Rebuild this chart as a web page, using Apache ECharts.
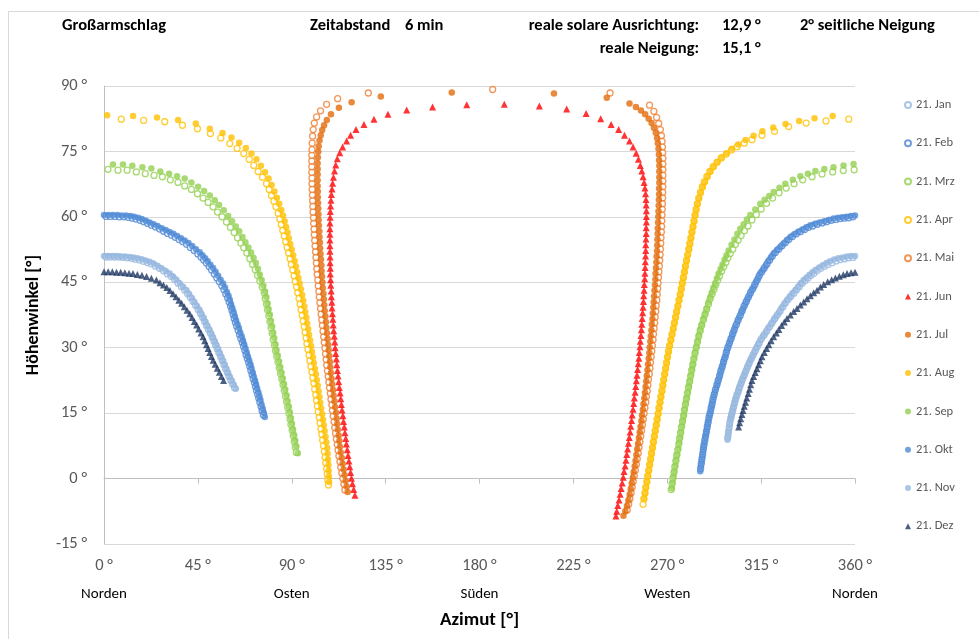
<!DOCTYPE html>
<html>
<head>
<meta charset="utf-8">
<script src="https://cdn.jsdelivr.net/npm/echarts@6/dist/echarts.min.js"></script>
<style>
html, body { margin: 0; padding: 0; background: #fff; }
#chart { width: 979px; height: 639px; }
</style>
</head>
<body>
<div id="chart"></div>
<script>
const monthNames = ["21. Jan", "21. Feb", "21. Mrz", "21. Apr", "21. Mai", "21. Jun",
  "21. Jul", "21. Aug", "21. Sep", "21. Okt", "21. Nov", "21. Dez"];

const jan = [
  [1.0,50.8],[3.0,50.8],[5.1,50.8],[7.1,50.8],[9.2,50.7],[11.2,50.6],[13.2,50.5],[15.1,50.3],[17.1,50.1],[19.0,49.8],
  [21.0,49.5],[22.8,49.2],[24.7,48.7],[26.6,48.2],[28.6,47.6],[30.5,46.9],[32.3,46.3],[33.9,45.6],[35.5,44.8],[37.1,44.0],
  [38.7,43.2],[40.1,42.4],[41.4,41.5],[42.7,40.6],[43.9,39.7],[45.2,38.7],[46.3,37.8],[47.3,36.9],[48.2,36.0],[49.1,35.1],
  [50.1,34.2],[51.0,33.3],[51.9,32.4],[52.7,31.5],[53.5,30.6],[54.3,29.7],[55.1,28.8],[55.9,27.9],[56.7,27.0],[57.5,26.1],
  [58.3,25.2],[59.1,24.3],[59.9,23.4],[60.8,22.5],[61.7,21.6],[62.6,20.8],
  [299.0,9.5],[299.3,10.6],[299.7,11.7],[300.0,12.8],[300.5,13.9],[300.9,14.8],[301.4,15.7],[301.9,16.6],[302.4,17.5],[302.9,18.4],
  [303.5,19.3],[304.2,20.2],[304.8,21.1],[305.5,22.0],[306.2,22.9],[307.0,23.8],[307.8,24.8],[308.6,25.7],[309.4,26.6],[310.3,27.5],
  [311.2,28.4],[312.2,29.3],[313.1,30.2],[314.1,31.1],[315.2,32.1],[316.5,33.0],[317.8,33.9],[319.1,34.8],[320.3,35.7],[321.6,36.7],
  [322.9,37.6],[324.2,38.5],[325.5,39.4],[326.7,40.3],[328.0,41.1],[329.3,41.8],[330.7,42.5],[332.0,43.3],[333.3,44.0],[334.7,44.8],
  [336.1,45.4],[337.5,46.0],[338.9,46.6],[340.3,47.1],[341.9,47.7],[343.6,48.2],[345.4,48.7],[347.1,49.1],[349.0,49.5],[351.0,49.9],
  [353.0,50.2],[355.0,50.4],[357.0,50.6],[359.0,50.7]
];

const feb = [
  [1.0,60.1],[3.1,60.1],[5.3,60.1],[7.4,60.0],[9.5,60.0],[11.6,59.9],[13.6,59.7],[15.4,59.5],[17.3,59.2],[19.1,58.9],
  [21.0,58.5],[22.8,58.1],[24.7,57.7],[26.7,57.2],[28.6,56.7],[30.5,56.2],[32.4,55.8],[34.2,55.3],[36.0,54.8],[37.8,54.3],
  [39.6,53.7],[41.4,53.0],[43.2,52.3],[45.0,51.5],[46.5,50.8],[47.8,50.1],[49.1,49.4],[50.4,48.6],[51.6,47.8],[52.9,46.9],
  [54.1,46.0],[55.3,45.1],[56.5,44.2],[57.5,43.3],[58.4,42.3],[59.3,41.4],[60.0,40.5],[60.7,39.5],[61.3,38.6],[61.9,37.7],
  [62.4,36.7],[63.0,35.8],[63.6,34.9],[64.3,34.0],[65.0,33.0],[65.6,32.1],[66.3,31.2],[66.9,30.3],[67.5,29.4],[68.1,28.4],
  [68.7,27.5],[69.3,26.6],[69.9,25.7],[70.4,24.8],[71.0,23.8],[71.5,22.9],[72.1,22.0],[72.6,21.1],[73.1,20.2],[73.7,19.3],
  [74.2,18.4],[74.7,17.5],[75.3,16.5],[75.8,15.5],[76.4,14.6],
  [286.0,2.3],[286.3,3.4],[286.6,4.5],[287.0,5.6],[287.3,6.7],[287.6,7.7],[288.0,8.8],[288.4,9.8],[288.8,10.8],[289.2,11.9],
  [289.6,12.9],[290.0,14.0],[290.5,15.0],[291.0,16.1],[291.5,17.1],[291.9,18.2],[292.5,19.3],[293.1,20.4],[293.8,21.5],[294.4,22.5],
  [295.1,23.6],[295.7,24.7],[296.4,25.7],[297.0,26.8],[297.7,27.8],[298.3,28.9],[299.0,30.0],[299.8,31.1],[300.6,32.1],[301.4,33.2],
  [302.2,34.2],[303.1,35.3],[304.0,36.4],[305.0,37.4],[305.9,38.5],[306.9,39.6],[307.9,40.6],[308.9,41.6],[309.9,42.6],[311.0,43.5],
  [312.0,44.5],[313.1,45.5],[314.1,46.5],[315.3,47.4],[316.5,48.3],[317.8,49.2],[319.1,50.1],[320.4,51.0],[321.8,51.8],[323.4,52.6],
  [325.0,53.4],[326.6,54.1],[328.2,54.8],[330.0,55.5],[331.9,56.1],[333.8,56.6],[335.8,57.1],[337.7,57.6],[339.7,57.9],[341.9,58.3],
  [344.2,58.6],[346.4,58.9],[348.6,59.2],[350.8,59.4],[352.9,59.6],[354.9,59.7],[357.0,59.8],[359.0,60.0]
];

const mrz = [
  [1.9,70.9],[6.7,70.7],[11.1,70.7],[15.5,70.3],[19.8,69.9],[24.0,69.5],[28.0,69.2],[31.8,68.5],[35.5,67.9],[38.7,67.1],
  [41.9,66.3],[44.8,65.3],[47.5,64.3],[49.9,63.3],[52.3,62.3],[54.4,61.1],[56.6,60.0],[58.7,58.8],[60.6,57.6],[62.4,56.4],
  [64.0,55.2],[65.6,54.0],[67.0,52.9],[68.5,51.7],[69.9,50.4],[71.2,49.1],[72.5,47.9],[73.6,46.6],[74.7,45.3],[75.8,43.9],
  [76.8,42.6],[77.3,41.3],[77.9,40.0],[78.4,38.7],[79.0,37.3],[79.5,36.0],[80.1,34.6],[80.6,33.3],[81.1,31.9],[81.7,30.6],
  [82.2,29.3],[82.8,28.0],[83.4,26.7],[84.0,25.4],[84.6,24.1],[85.2,22.8],[85.8,21.5],[86.4,20.2],[87.0,18.9],[87.5,17.6],
  [88.1,16.3],[88.6,15.0],[89.1,13.7],[89.6,12.4],[90.2,11.1],[90.7,9.8],[91.2,8.5],[91.7,7.2],[92.2,6.0],
  [271.9,-2.5],[272.3,-1.2],[272.7,0.1],[273.2,1.4],[273.6,2.7],[274.1,4.0],[274.5,5.3],[275.0,6.6],[275.5,7.9],[275.9,9.2],
  [276.4,10.5],[276.8,11.8],[277.3,13.1],[277.8,14.4],[278.2,15.7],[278.7,17.0],[279.2,18.3],[279.7,19.6],[280.2,20.9],[280.7,22.2],
  [281.2,23.5],[281.7,24.8],[282.2,26.1],[282.7,27.4],[283.3,28.7],[283.9,30.0],[284.5,31.3],[285.1,32.6],[285.8,33.9],[286.5,35.1],
  [287.3,36.4],[288.1,37.6],[288.9,38.8],[289.8,40.0],[290.6,41.2],[291.5,42.3],[292.4,43.4],[293.3,44.5],[294.2,45.5],[295.1,46.5],
  [296.1,47.6],[297.1,48.6],[298.1,49.6],[299.1,50.6],[300.2,51.6],[301.4,52.6],[302.7,53.7],[304.0,54.7],[305.4,55.7],[307.0,56.8],
  [308.7,57.9],[310.6,59.3],[312.7,60.5],[315.0,61.8],[317.6,63.1],[320.5,64.3],[323.6,65.5],[327.0,66.6],[330.8,67.6],[334.9,68.5],
  [339.4,69.2],[344.2,69.8],[349.3,70.3],[354.4,70.6],[359.6,70.8]
];

const apr = [
  [8.3,82.4],[19.0,82.1],[29.1,81.8],[37.6,81.0],[44.8,80.2],[51.0,79.1],[56.0,78.1],[60.3,76.8],[63.8,75.7],[67.0,74.5],
  [69.6,73.2],[71.8,71.8],[73.9,70.4],[76.0,69.1],[77.9,67.6],[79.2,66.3],[80.3,64.9],[81.4,63.6],[82.4,62.3],[83.5,60.8],
  [84.3,59.5],[85.0,58.2],[85.7,56.9],[86.4,55.6],[87.1,54.3],[87.8,53.0],[88.5,51.7],[89.2,50.4],[89.8,49.1],[90.5,47.8],
  [91.1,46.5],[91.7,45.2],[92.3,43.9],[92.9,42.6],[93.5,41.3],[94.0,40.0],[94.5,38.7],[95.0,37.4],[95.5,36.1],[96.0,34.8],
  [96.4,33.5],[96.9,32.2],[97.3,30.9],[97.8,29.6],[98.3,28.3],[98.7,27.0],[99.2,25.7],[99.7,24.4],[100.1,23.1],[100.6,21.8],
  [101.0,20.5],[101.5,19.2],[101.9,17.9],[102.3,16.6],[102.7,15.3],[103.2,14.0],[103.6,12.7],[104.0,11.4],[104.4,10.1],[104.8,8.8],
  [105.2,7.5],[105.6,6.2],[106.0,4.9],[106.3,3.6],[106.7,2.3],[107.0,1.0],[107.3,-0.3],[107.6,-1.5],
  [258.4,-5.9],[258.8,-4.6],[259.3,-3.3],[259.7,-2.0],[260.2,-0.7],[260.6,0.6],[261.1,1.9],[261.5,3.2],[262.0,4.5],[262.4,5.8],
  [262.9,7.1],[263.3,8.4],[263.8,9.7],[264.2,11.0],[264.7,12.3],[265.1,13.6],[265.6,14.9],[266.0,16.2],[266.5,17.5],[266.9,18.8],
  [267.4,20.1],[267.8,21.4],[268.3,22.7],[268.7,24.0],[269.2,25.3],[269.6,26.6],[270.1,27.9],[270.6,29.2],[271.1,30.5],[271.7,31.8],
  [272.3,33.1],[272.9,34.4],[273.4,35.7],[274.0,37.0],[274.5,38.3],[275.1,39.6],[275.6,40.9],[276.2,42.2],[276.7,43.5],[277.2,44.8],
  [277.7,46.1],[278.2,47.4],[278.7,48.7],[279.2,50.0],[279.8,51.3],[280.3,52.6],[280.8,53.9],[281.3,55.2],[281.8,56.5],[282.3,57.8],
  [282.8,59.1],[283.3,60.4],[283.8,61.7],[284.4,63.0],[285.1,64.3],[285.9,65.6],[286.8,66.9],[287.8,68.1],[289.0,69.3],[290.4,70.4],
  [292.0,71.5],[293.8,72.5],[295.9,73.5],[298.3,74.4],[300.8,75.3],[303.5,76.1],[306.9,76.9],[310.6,77.7],[315.4,78.7],[321.4,79.6],
  [328.2,80.7],[336.6,81.5],[346.1,82.0],[357.0,82.4]
];

const mai = [
  [115.5,-2.6],[115.0,-1.3],[114.5,0.0],[114.0,1.3],[113.5,2.6],[113.1,3.9],[112.6,5.2],[112.2,6.5],[111.8,7.8],[111.4,9.1],
  [111.0,10.4],[110.6,11.7],[110.3,13.0],[109.9,14.3],[109.5,15.6],[109.2,16.9],[108.8,18.2],[108.5,19.5],[108.1,20.8],[107.8,22.1],
  [107.5,23.4],[107.1,24.7],[106.8,26.0],[106.5,27.3],[106.2,28.6],[105.9,29.9],[105.6,31.2],[105.3,32.5],[105.0,33.8],[104.7,35.1],
  [104.4,36.4],[104.1,37.7],[103.8,39.0],[103.5,40.3],[103.2,41.6],[103.0,42.9],[102.7,44.2],[102.5,45.5],[102.2,46.8],[102.0,48.1],
  [101.8,49.4],[101.6,50.7],[101.4,52.0],[101.2,53.3],[101.0,54.6],[100.8,55.9],[100.7,57.2],[100.5,58.5],[100.4,59.8],[100.2,61.1],
  [100.1,62.4],[100.0,63.7],[99.9,65.0],[99.8,66.3],[99.7,67.6],[99.7,68.9],[99.6,70.2],[99.6,71.5],[99.6,72.8],[99.6,74.1],
  [99.7,75.4],[99.8,76.9],[100.0,78.5],[100.3,80.0],[100.8,81.5],[101.9,82.9],[103.8,84.3],[106.7,85.8],[112.0,87.1],[126.7,88.4],
  [186.3,89.2],[242.6,88.4],
  [261.5,85.6],[263.6,84.2],[264.9,82.8],[265.9,81.4],[266.7,80.0],[267.2,78.6],[267.5,77.3],[267.7,76.0],[267.8,74.7],[267.9,73.4],
  [267.9,72.1],[267.9,70.8],[267.9,69.5],[267.9,68.2],[267.9,66.9],[267.8,65.6],[267.8,64.3],[267.7,63.0],[267.6,61.7],[267.5,60.4],
  [267.4,59.1],[267.3,57.8],[267.2,56.5],[267.0,55.2],[266.9,53.9],[266.7,52.6],[266.6,51.3],[266.4,50.0],[266.2,48.7],[266.0,47.4],
  [265.8,46.1],[265.6,44.8],[265.4,43.5],[265.2,42.2],[265.0,40.9],[264.7,39.6],[264.5,38.3],[264.2,37.0],[264.0,35.7],[263.7,34.4],
  [263.4,33.1],[263.2,31.8],[262.9,30.5],[262.6,29.2],[262.3,27.9],[262.0,26.6],[261.7,25.3],[261.4,24.0],[261.0,22.7],[260.7,21.4],
  [260.4,20.1],[260.0,18.8],[259.7,17.5],[259.3,16.2],[258.9,14.9],[258.5,13.6],[258.1,12.3],[257.7,11.0],[257.3,9.7],[256.9,8.4],
  [256.5,7.1],[256.1,5.8],[255.6,4.5],[255.2,3.2],[254.7,1.9],[254.2,0.6],[253.7,-0.7],[253.2,-2.0],[252.7,-3.3],[252.1,-4.6],
  [251.5,-5.9],[250.8,-7.2]
];

const jun = [
  [120.3,-3.8],[119.7,-2.5],[119.1,-1.2],[118.6,0.1],[118.2,1.4],[117.8,2.7],[117.4,4.0],[117.0,5.3],[116.6,6.6],[116.2,7.9],
  [115.9,9.2],[115.5,10.5],[115.2,11.8],[114.8,13.1],[114.5,14.4],[114.1,15.7],[113.8,17.0],[113.5,18.3],[113.2,19.6],[112.8,20.9],
  [112.5,22.2],[112.2,23.5],[111.9,24.8],[111.6,26.1],[111.4,27.4],[111.1,28.7],[110.8,30.0],[110.6,31.3],[110.4,32.6],[110.1,33.9],
  [109.9,35.2],[109.7,36.5],[109.5,37.8],[109.3,39.1],[109.2,40.4],[109.0,41.7],[108.9,43.0],[108.7,44.3],[108.6,45.6],[108.5,46.9],
  [108.5,48.2],[108.4,49.5],[108.4,50.8],[108.3,52.1],[108.3,53.4],[108.3,54.7],[108.3,56.0],[108.3,57.3],[108.3,58.6],[108.4,59.9],
  [108.5,61.2],[108.6,62.5],[108.8,63.8],[109.0,65.1],[109.3,66.4],[109.6,67.7],[110.0,69.1],[110.5,70.5],[111.1,71.9],[111.8,73.3],
  [113.0,74.7],[114.4,76.0],[116.3,77.4],[118.2,78.7],[120.8,80.0],[124.6,81.2],[129.4,82.4],[136.1,83.5],[145.1,84.5],[157.5,85.2],
  [173.9,85.7],[191.9,85.8],[208.7,85.4],[221.8,84.7],[231.1,83.7],[238.1,82.5],[243.1,81.2],[246.7,80.0],[249.5,78.7],[251.9,77.4],
  [253.6,76.0],[255.1,74.6],[256.2,73.2],[257.1,71.8],[257.8,70.5],[258.4,69.2],[258.9,67.9],[259.3,66.6],[259.6,65.3],[259.8,64.0],
  [259.9,62.7],[260.0,61.4],[260.0,60.1],[260.0,58.8],[259.9,57.5],[259.9,56.2],[259.8,54.9],[259.7,53.6],[259.7,52.3],[259.6,51.0],
  [259.5,49.7],[259.4,48.4],[259.3,47.1],[259.2,45.8],[259.0,44.5],[258.9,43.2],[258.7,41.9],[258.6,40.6],[258.4,39.3],[258.2,38.0],
  [258.0,36.7],[257.8,35.4],[257.6,34.1],[257.4,32.8],[257.1,31.5],[256.9,30.2],[256.6,28.9],[256.4,27.6],[256.1,26.3],[255.8,25.0],
  [255.5,23.7],[255.2,22.4],[254.9,21.1],[254.6,19.8],[254.2,18.5],[253.9,17.2],[253.6,15.9],[253.2,14.6],[252.9,13.3],[252.5,12.0],
  [252.2,10.7],[251.8,9.4],[251.4,8.1],[251.0,6.8],[250.6,5.5],[250.2,4.2],[249.8,2.9],[249.3,1.6],[248.9,0.3],[248.4,-1.0],
  [247.9,-2.3],[247.4,-3.6],[246.9,-4.9],[246.3,-6.2],[245.8,-7.5],[245.4,-8.6]
];

const jul = [
  [116.8,-3.1],[116.3,-1.8],[115.8,-0.5],[115.3,0.8],[114.9,2.1],[114.4,3.4],[114.0,4.7],[113.5,6.0],[113.1,7.3],[112.8,8.6],
  [112.5,9.9],[112.1,11.2],[111.8,12.5],[111.5,13.8],[111.2,15.1],[110.8,16.4],[110.5,17.7],[110.1,19.0],[109.8,20.3],[109.4,21.6],
  [109.1,22.9],[108.8,24.2],[108.5,25.5],[108.3,26.8],[108.0,28.1],[107.7,29.4],[107.5,30.7],[107.2,32.0],[106.9,33.3],[106.6,34.6],
  [106.4,35.9],[106.1,37.2],[105.8,38.5],[105.6,39.8],[105.4,41.1],[105.2,42.4],[104.9,43.7],[104.7,45.0],[104.5,46.3],[104.3,47.6],
  [104.2,48.9],[104.0,50.2],[103.8,51.5],[103.6,52.8],[103.5,54.1],[103.3,55.4],[103.2,56.7],[103.0,58.0],[102.9,59.3],[102.8,60.6],
  [102.7,61.9],[102.6,63.2],[102.5,64.5],[102.5,65.8],[102.4,67.1],[102.4,68.4],[102.4,69.7],[102.4,71.0],[102.4,72.3],[102.5,73.6],
  [102.7,74.9],[102.9,76.2],[103.3,77.5],[103.9,78.7],[104.6,79.9],[105.5,81.0],[106.8,82.2],[108.8,83.5],[112.6,85.0],[118.7,86.3],
  [132.7,87.6],[166.7,88.5],[215.7,88.3],[241.0,87.3],
  [251.9,86.0],[255.0,85.2],[257.4,84.4],[259.4,83.5],[261.1,82.5],[262.5,81.5],[263.6,80.4],[264.5,79.3],[265.1,78.1],[265.5,76.9],
  [265.8,75.6],[266.0,74.3],[266.1,73.0],[266.2,71.7],[266.2,70.4],[266.2,69.1],[266.2,67.8],[266.1,66.5],[266.1,65.2],[266.0,63.9],
  [265.9,62.6],[265.8,61.3],[265.7,60.0],[265.6,58.7],[265.5,57.4],[265.4,56.1],[265.3,54.8],[265.2,53.5],[265.1,52.2],[264.9,50.9],
  [264.8,49.6],[264.6,48.3],[264.4,47.0],[264.3,45.7],[264.1,44.4],[263.9,43.1],[263.7,41.8],[263.5,40.5],[263.3,39.2],[263.1,37.9],
  [262.9,36.6],[262.6,35.3],[262.4,34.0],[262.1,32.7],[261.9,31.4],[261.6,30.1],[261.4,28.8],[261.1,27.5],[260.8,26.2],[260.5,24.9],
  [260.2,23.6],[259.9,22.3],[259.6,21.0],[259.3,19.7],[259.0,18.4],[258.6,17.1],[258.3,15.8],[257.9,14.5],[257.6,13.2],[257.2,11.9],
  [256.8,10.6],[256.4,9.3],[256.0,8.0],[255.6,6.7],[255.2,5.4],[254.8,4.1],[254.4,2.8],[253.9,1.5],[253.5,0.2],[253.0,-1.1],
  [252.5,-2.4],[252.0,-3.7],[251.4,-5.0],[250.7,-6.3],[249.9,-7.5],[249.0,-8.5]
];

const aug = [
  [1.5,83.3],[13.9,83.1],[25.4,82.8],[35.5,82.2],[44.0,81.4],[50.7,80.2],[56.8,79.2],[61.1,78.2],[64.8,77.0],[68.0,75.8],
  [70.7,74.5],[73.1,73.2],[75.2,71.7],[77.2,70.2],[78.9,68.8],[80.4,67.3],[81.7,65.8],[82.9,64.4],[84.0,63.0],[85.0,61.6],
  [85.8,60.3],[86.6,59.0],[87.3,57.7],[88.0,56.4],[88.6,55.1],[89.3,53.8],[90.0,52.5],[90.7,51.2],[91.4,49.9],[92.0,48.6],
  [92.6,47.3],[93.2,46.0],[93.8,44.7],[94.4,43.4],[95.0,42.1],[95.5,40.8],[96.0,39.5],[96.5,38.2],[97.0,36.9],[97.4,35.6],
  [97.9,34.3],[98.3,33.0],[98.8,31.7],[99.3,30.4],[99.7,29.1],[100.2,27.8],[100.6,26.5],[101.1,25.2],[101.6,23.9],[102.0,22.6],
  [102.5,21.3],[102.9,20.0],[103.3,18.7],[103.7,17.4],[104.1,16.1],[104.6,14.8],[105.0,13.5],[105.4,12.2],[105.8,10.9],[106.2,9.6],
  [106.6,8.3],[107.0,7.0],[107.2,5.7],[107.4,4.4],[107.6,3.1],[107.7,1.8],[107.8,0.5],[107.9,-0.8],
  [258.9,-4.7],[259.4,-3.4],[259.8,-2.1],[260.3,-0.8],[260.8,0.5],[261.2,1.8],[261.7,3.1],[262.1,4.4],[262.6,5.7],[263.0,7.0],
  [263.5,8.3],[263.9,9.6],[264.4,10.9],[264.8,12.2],[265.3,13.5],[265.7,14.8],[266.2,16.1],[266.6,17.4],[267.1,18.7],[267.5,20.0],
  [268.0,21.3],[268.4,22.6],[268.9,23.9],[269.3,25.2],[269.8,26.5],[270.2,27.8],[270.7,29.1],[271.2,30.4],[271.8,31.7],[272.3,33.0],
  [272.9,34.3],[273.5,35.6],[274.0,36.9],[274.6,38.2],[275.1,39.5],[275.7,40.8],[276.2,42.1],[276.8,43.4],[277.3,44.7],[277.8,46.0],
  [278.3,47.3],[278.8,48.6],[279.3,49.9],[279.8,51.2],[280.4,52.5],[280.9,53.8],[281.4,55.1],[281.9,56.4],[282.4,57.7],[282.9,59.0],
  [283.4,60.3],[283.9,61.6],[284.5,62.9],[285.2,64.2],[286.0,65.5],[287.0,66.8],[288.1,68.0],[289.3,69.2],[290.7,70.4],[292.3,71.5],
  [294.1,72.6],[296.1,73.6],[298.4,74.6],[301.0,75.6],[304.0,76.6],[307.5,77.6],[311.4,78.6],[315.6,79.6],[320.8,80.5],[326.7,81.3],
  [333.2,82.0],[340.6,82.6],[349.3,83.1]
];

const sep = [
  [4.3,72.0],[9.1,72.0],[13.6,71.7],[18.4,71.4],[22.7,71.1],[27.0,70.4],[31.2,69.9],[35.0,69.3],[38.7,68.8],[41.9,67.9],
  [45.1,66.9],[48.0,65.9],[50.7,64.9],[53.1,63.8],[55.2,62.7],[57.4,61.5],[59.5,60.2],[61.4,59.0],[63.2,57.8],[64.8,56.7],
  [66.4,55.4],[67.8,54.2],[69.2,53.0],[70.5,51.8],[71.7,50.6],[72.8,49.4],[73.8,48.1],[74.7,46.8],[75.6,45.5],[76.4,44.2],
  [77.2,42.9],[77.8,41.6],[78.4,40.2],[78.9,38.9],[79.5,37.6],[80.0,36.2],[80.6,34.9],[81.1,33.5],[81.6,32.2],[82.2,30.8],
  [82.7,29.5],[83.3,28.2],[83.9,26.9],[84.5,25.6],[85.1,24.3],[85.7,23.0],[86.3,21.7],[86.9,20.4],[87.5,19.1],[88.0,17.8],
  [88.6,16.5],[89.1,15.2],[89.6,13.9],[90.1,12.6],[90.6,11.3],[91.2,10.0],[91.7,8.7],[92.2,7.4],[92.9,5.8],
  [272.2,-2.2],[272.6,-0.9],[273.0,0.4],[273.4,1.7],[273.9,3.0],[274.3,4.3],[274.8,5.6],[275.3,6.9],[275.7,8.2],[276.2,9.5],
  [276.6,10.8],[277.1,12.1],[277.5,13.4],[278.0,14.7],[278.4,16.0],[278.9,17.3],[279.4,18.6],[279.9,19.9],[280.4,21.2],[280.9,22.5],
  [281.4,23.8],[281.9,25.1],[282.4,26.4],[282.9,27.7],[283.4,29.0],[284.0,30.3],[284.6,31.6],[285.2,32.9],[285.8,34.2],[286.6,35.4],
  [287.4,36.7],[288.2,37.9],[289.0,39.1],[289.8,40.4],[290.6,41.6],[291.4,42.7],[292.2,43.8],[293.0,44.8],[293.8,45.9],[294.6,47.0],
  [295.6,48.1],[296.5,49.1],[297.5,50.2],[298.4,51.2],[299.4,52.3],[300.8,53.6],[302.2,54.8],[303.6,56.1],[305.0,57.3],[306.6,58.3],
  [308.2,59.4],[309.8,60.4],[312.2,61.7],[314.6,63.0],[316.7,63.9],[318.9,64.8],[321.0,65.7],[323.8,66.7],[326.6,67.6],[330.2,68.5],
  [333.8,69.3],[337.4,69.9],[341.0,70.5],[345.3,71.0],[349.7,71.4],[354.5,71.8],[359.3,72.1]
];

const okt = [
  [0,60.4],[2.1,60.4],[4.2,60.4],[6.4,60.4],[8.5,60.3],[10.6,60.3],[12.7,60.2],[14.5,60.0],[16.4,59.8],[18.2,59.5],
  [20.1,59.1],[21.9,58.7],[23.8,58.3],[25.7,57.9],[27.7,57.4],[29.6,57.0],[31.5,56.5],[33.3,56.1],[35.1,55.6],[36.9,55.1],
  [38.7,54.6],[40.5,54.0],[42.3,53.3],[44.1,52.6],[45.9,51.9],[47.2,51.2],[48.5,50.5],[49.7,49.8],[51.0,49.0],[52.3,48.3],
  [53.5,47.4],[54.7,46.5],[55.9,45.6],[57.1,44.7],[58.0,43.8],[58.9,42.8],[59.7,41.9],[60.3,41.0],[60.9,40.0],[61.5,39.1],
  [62.1,38.2],[62.7,37.2],[63.3,36.3],[64.0,35.4],[64.7,34.5],[65.3,33.5],[66.0,32.6],[66.6,31.7],[67.2,30.8],[67.8,29.9],
  [68.4,28.9],[69.0,28.0],[69.6,27.1],[70.2,26.2],[70.7,25.3],[71.3,24.3],[71.8,23.4],[72.4,22.5],[72.9,21.6],[73.4,20.7],
  [74.0,19.8],[74.5,18.9],[75.0,18.0],[75.5,17.0],[76.1,16.0],[76.6,15.1],[77.1,14.1],
  [285.8,1.7],[286.1,2.8],[286.5,3.9],[286.8,5.0],[287.1,6.1],[287.4,7.2],[287.8,8.2],[288.2,9.3],[288.6,10.3],[289.0,11.3],
  [289.4,12.4],[289.8,13.4],[290.3,14.5],[290.8,15.5],[291.2,16.6],[291.7,17.6],[292.2,18.7],[292.8,19.8],[293.5,20.9],[294.1,21.9],
  [294.8,23.0],[295.4,24.1],[296.0,25.2],[296.7,26.2],[297.3,27.3],[298.0,28.3],[298.6,29.4],[299.4,30.5],[300.2,31.6],[301.0,32.6],
  [301.8,33.7],[302.6,34.8],[303.6,35.9],[304.5,36.9],[305.5,38.0],[306.4,39.0],[307.4,40.1],[308.4,41.1],[309.4,42.1],[310.4,43.1],
  [311.5,44.0],[312.5,45.0],[313.6,46.0],[314.6,47.0],[315.9,47.9],[317.2,48.8],[318.4,49.8],[319.7,50.7],[321.0,51.6],[322.6,52.4],
  [324.2,53.1],[325.8,53.9],[327.4,54.7],[329.0,55.4],[330.9,56.0],[332.8,56.6],[334.8,57.1],[336.7,57.6],[338.6,58.1],[340.8,58.4],
  [343.0,58.7],[345.3,59.0],[347.5,59.3],[349.7,59.6],[351.8,59.8],[353.9,59.9],[355.9,60.0],[358.0,60.2],[360.0,60.3]
];

const nov = [
  [0,51.0],[2.0,51.0],[4.1,51.0],[6.1,51.0],[8.2,50.9],[10.2,50.9],[12.3,50.8],[14.2,50.7],[16.1,50.5],[18.1,50.3],
  [20.0,50.0],[21.9,49.7],[23.8,49.3],[25.7,48.8],[27.6,48.2],[29.6,47.6],[31.5,47.0],[33.1,46.3],[34.7,45.6],[36.3,44.8],
  [37.9,44.0],[39.5,43.2],[40.8,42.3],[42.1,41.4],[43.3,40.5],[44.6,39.5],[45.9,38.6],[46.8,37.7],[47.8,36.8],[48.7,35.9],
  [49.6,35.0],[50.6,34.1],[51.5,33.2],[52.3,32.3],[53.1,31.4],[53.9,30.6],[54.7,29.7],[55.5,28.8],[56.3,27.9],[57.1,27.0],
  [57.9,26.1],[58.7,25.1],[59.5,24.2],[60.3,23.3],[61.3,22.4],[62.2,21.5],[63.2,20.6],
  [298.9,8.9],[299.2,10.0],[299.5,11.1],[299.9,12.3],[300.2,13.4],[300.7,14.3],[301.2,15.2],[301.6,16.1],[302.1,17.1],[302.6,18.0],
  [303.2,18.9],[303.9,19.8],[304.5,20.7],[305.2,21.6],[305.8,22.5],[306.6,23.4],[307.4,24.3],[308.2,25.3],[309.0,26.2],[309.8,27.1],
  [310.8,28.0],[311.7,28.9],[312.7,29.9],[313.6,30.8],[314.6,31.7],[315.9,32.6],[317.2,33.5],[318.4,34.5],[319.7,35.4],[321.0,36.3],
  [322.3,37.2],[323.6,38.1],[324.8,39.1],[326.1,40.0],[327.4,40.9],[328.7,41.7],[330.0,42.5],[331.4,43.2],[332.7,44.0],[334.0,44.8],
  [335.4,45.5],[336.8,46.1],[338.2,46.7],[339.6,47.3],[341.0,47.8],[342.8,48.4],[344.5,48.9],[346.3,49.4],[348.0,49.8],[350.0,50.2],
  [352.0,50.5],[354.0,50.7],[356.0,50.9],[358.0,51.0],[360.0,51.0]
];

const dez = [
  [0,47.4],[2,47.4],[4,47.4],[6,47.3],[8,47.3],[10,47.2],[12,47.1],[13.9,47.0],[16.0,46.8],[18.2,46.6],
  [20.4,46.3],[22.7,45.9],[25.1,45.5],[26.8,44.9],[28.5,44.4],[30.1,43.8],[31.6,43.1],[33.1,42.4],[34.5,41.7],[35.9,40.9],
  [37.2,40.2],[38.5,39.4],[39.8,38.6],[41.1,37.8],[42.2,36.9],[43.3,36.0],[44.4,35.2],[45.4,34.3],[46.5,33.4],[47.5,32.5],
  [48.3,31.6],[49.1,30.7],[49.9,29.8],[50.7,28.9],[51.5,28.0],[52.3,27.1],[53.3,26.2],[54.3,25.3],[55.3,24.4],[56.3,23.4],
  [57.3,22.5],
  [304.2,11.8],[304.7,12.8],[305.2,13.7],[305.8,14.7],[306.3,15.6],[306.9,16.6],[307.5,17.5],[308.1,18.5],[308.8,19.5],[309.4,20.5],
  [310.0,21.5],[310.6,22.5],[311.4,23.4],[312.2,24.3],[313.0,25.2],[313.8,26.1],[314.6,27.0],[315.4,27.9],[316.5,28.9],[317.6,29.8],
  [318.7,30.7],[319.8,31.6],[321.0,32.5],[322.3,33.4],[323.5,34.2],[324.8,35.1],[326.1,35.9],[327.4,36.7],[329.0,37.5],[330.6,38.3],
  [332.2,39.0],[333.8,39.8],[335.4,40.5],[337.0,41.2],[338.6,41.9],[340.2,42.6],[341.8,43.2],[343.4,43.9],[345.0,44.5],[346.9,45.1],
  [348.8,45.6],[350.6,46.0],[352.5,46.4],[354.4,46.7],[356.2,47.0],[358.1,47.2],[360.0,47.3]
];

const monthData = [jan, feb, mrz, apr, mai, jun, jul, aug, sep, okt, nov, dez];

const yTicks = [-15, 0, 15, 30, 45, 60, 75, 90];
const xTicks = [0, 45, 90, 135, 180, 225, 270, 315, 360];
const directionAngles = [0, 90, 180, 270, 360];
const directionNames = ["Norden", "Osten", "Süden", "Westen", "Norden"];

const headerLeft = ["Großarmschlag", "Zeitabstand", "6 min", "12,9 °", "2° seitliche Neigung", "15,1 °"];
const headerRight = ["reale solare Ausrichtung:", "reale Neigung:"];

const font = "Carlito, 'Liberation Sans Narrow', 'Liberation Sans', Arial, sans-serif";

// marker look per month: [symbol, colour, open?, size]
const markers = [
  ["circle", "#95B6DF", true, 6],
  ["circle", "#4F86D3", true, 6],
  ["circle", "#92D050", true, 6],
  ["circle", "#FFC000", true, 6],
  ["circle", "#ED7D31", true, 6],
  ["triangle", "#FF0000", false, 7],
  ["circle", "#E46C0A", false, 6.5],
  ["circle", "#FFC000", false, 6.5],
  ["circle", "#92D050", false, 6.5],
  ["circle", "#4F8BD6", false, 6.5],
  ["circle", "#95B6DF", false, 6.5],
  ["triangle", "#1F3864", false, 7]
];

const series = monthNames.map((name, i) => {
  const [symbol, color, open, size] = markers[i];
  return {
    name: name,
    type: "scatter",
    data: monthData[i],
    symbol: symbol,
    symbolSize: size,
    itemStyle: open
      ? { color: "#ffffff", borderColor: color, borderWidth: 1.3 }
      : { color: color },
    emphasis: { disabled: true }
  };
});

function headerText(text, left, top) {
  return {
    type: "text", left: left, top: top, silent: true,
    style: { text: text, font: "bold 16.5px " + font, fill: "#000" }
  };
}

const chart = echarts.init(document.getElementById("chart"));
chart.setOption({
  animation: false,
  backgroundColor: "#fff",
  grid: { left: 104, right: 124, top: 86, bottom: 95 },
  legend: {
    orient: "vertical", left: 899, top: 93,
    itemWidth: 6, itemHeight: 6, itemGap: 24.3,
    textStyle: { fontSize: 12.5, color: "#595959", fontFamily: font, lineHeight: 14 },
    data: monthNames
  },
  xAxis: [
    {
      type: "value", min: 0, max: 360, interval: 45, position: "bottom",
      axisLine: { show: true, onZero: true, lineStyle: { color: "#BFBFBF" } },
      axisTick: { show: true, length: 5, lineStyle: { color: "#BFBFBF" } },
      axisLabel: { show: false },
      splitLine: { show: false }
    },
    {
      type: "value", min: 0, max: 360, interval: 45, position: "bottom",
      axisLine: { show: false, onZero: false },
      axisTick: { show: false },
      splitLine: { show: false },
      axisLabel: {
        margin: 8,
        formatter: function (v) {
          const k = directionAngles.indexOf(v);
          return "{v|" + v + " °}" + (k >= 0 ? "\n{d|" + directionNames[k] + "}" : "");
        },
        rich: {
          v: { fontSize: 16.5, color: "#595959", lineHeight: 28, fontFamily: font },
          d: { fontSize: 15, color: "#000", lineHeight: 28, fontFamily: font }
        }
      },
      name: "Azimut [°]", nameLocation: "middle", nameGap: 67,
      nameTextStyle: { fontWeight: "bold", fontSize: 19, color: "#000", fontFamily: font }
    }
  ],
  yAxis: {
    type: "value", min: yTicks[0], max: yTicks[yTicks.length - 1], interval: 15,
    axisLine: { show: true, onZero: false, lineStyle: { color: "#BFBFBF" } },
    axisTick: { show: false },
    axisLabel: { formatter: v => v + " °", color: "#595959", fontSize: 16.5, margin: 17, fontFamily: font },
    splitLine: { lineStyle: { color: "#D9D9D9" } },
    name: "Höhenwinkel [°]", nameLocation: "middle", nameGap: 62, nameRotate: 90,
    nameTextStyle: { fontWeight: "bold", fontSize: 18, color: "#000", fontFamily: font }
  },
  graphic: [
    { type: "rect", left: 6, top: 9, silent: true, shape: { width: 1000, height: 700 },
      style: { fill: "none", stroke: "#D9D9D9", lineWidth: 1 } },
    headerText(headerLeft[0], 62, 17),
    headerText(headerLeft[1], 310, 17),
    headerText(headerLeft[2], 405, 17),
    { type: "text", right: 280, top: 17, silent: true,
      style: { text: headerRight[0], font: "bold 16.5px " + font, fill: "#000" } },
    headerText(headerLeft[3], 722, 17),
    headerText(headerLeft[4], 800, 17),
    { type: "text", right: 280, top: 40, silent: true,
      style: { text: headerRight[1], font: "bold 16.5px " + font, fill: "#000" } },
    headerText(headerLeft[5], 722, 40)
  ],
  series: series
});
</script>
</body>
</html>
